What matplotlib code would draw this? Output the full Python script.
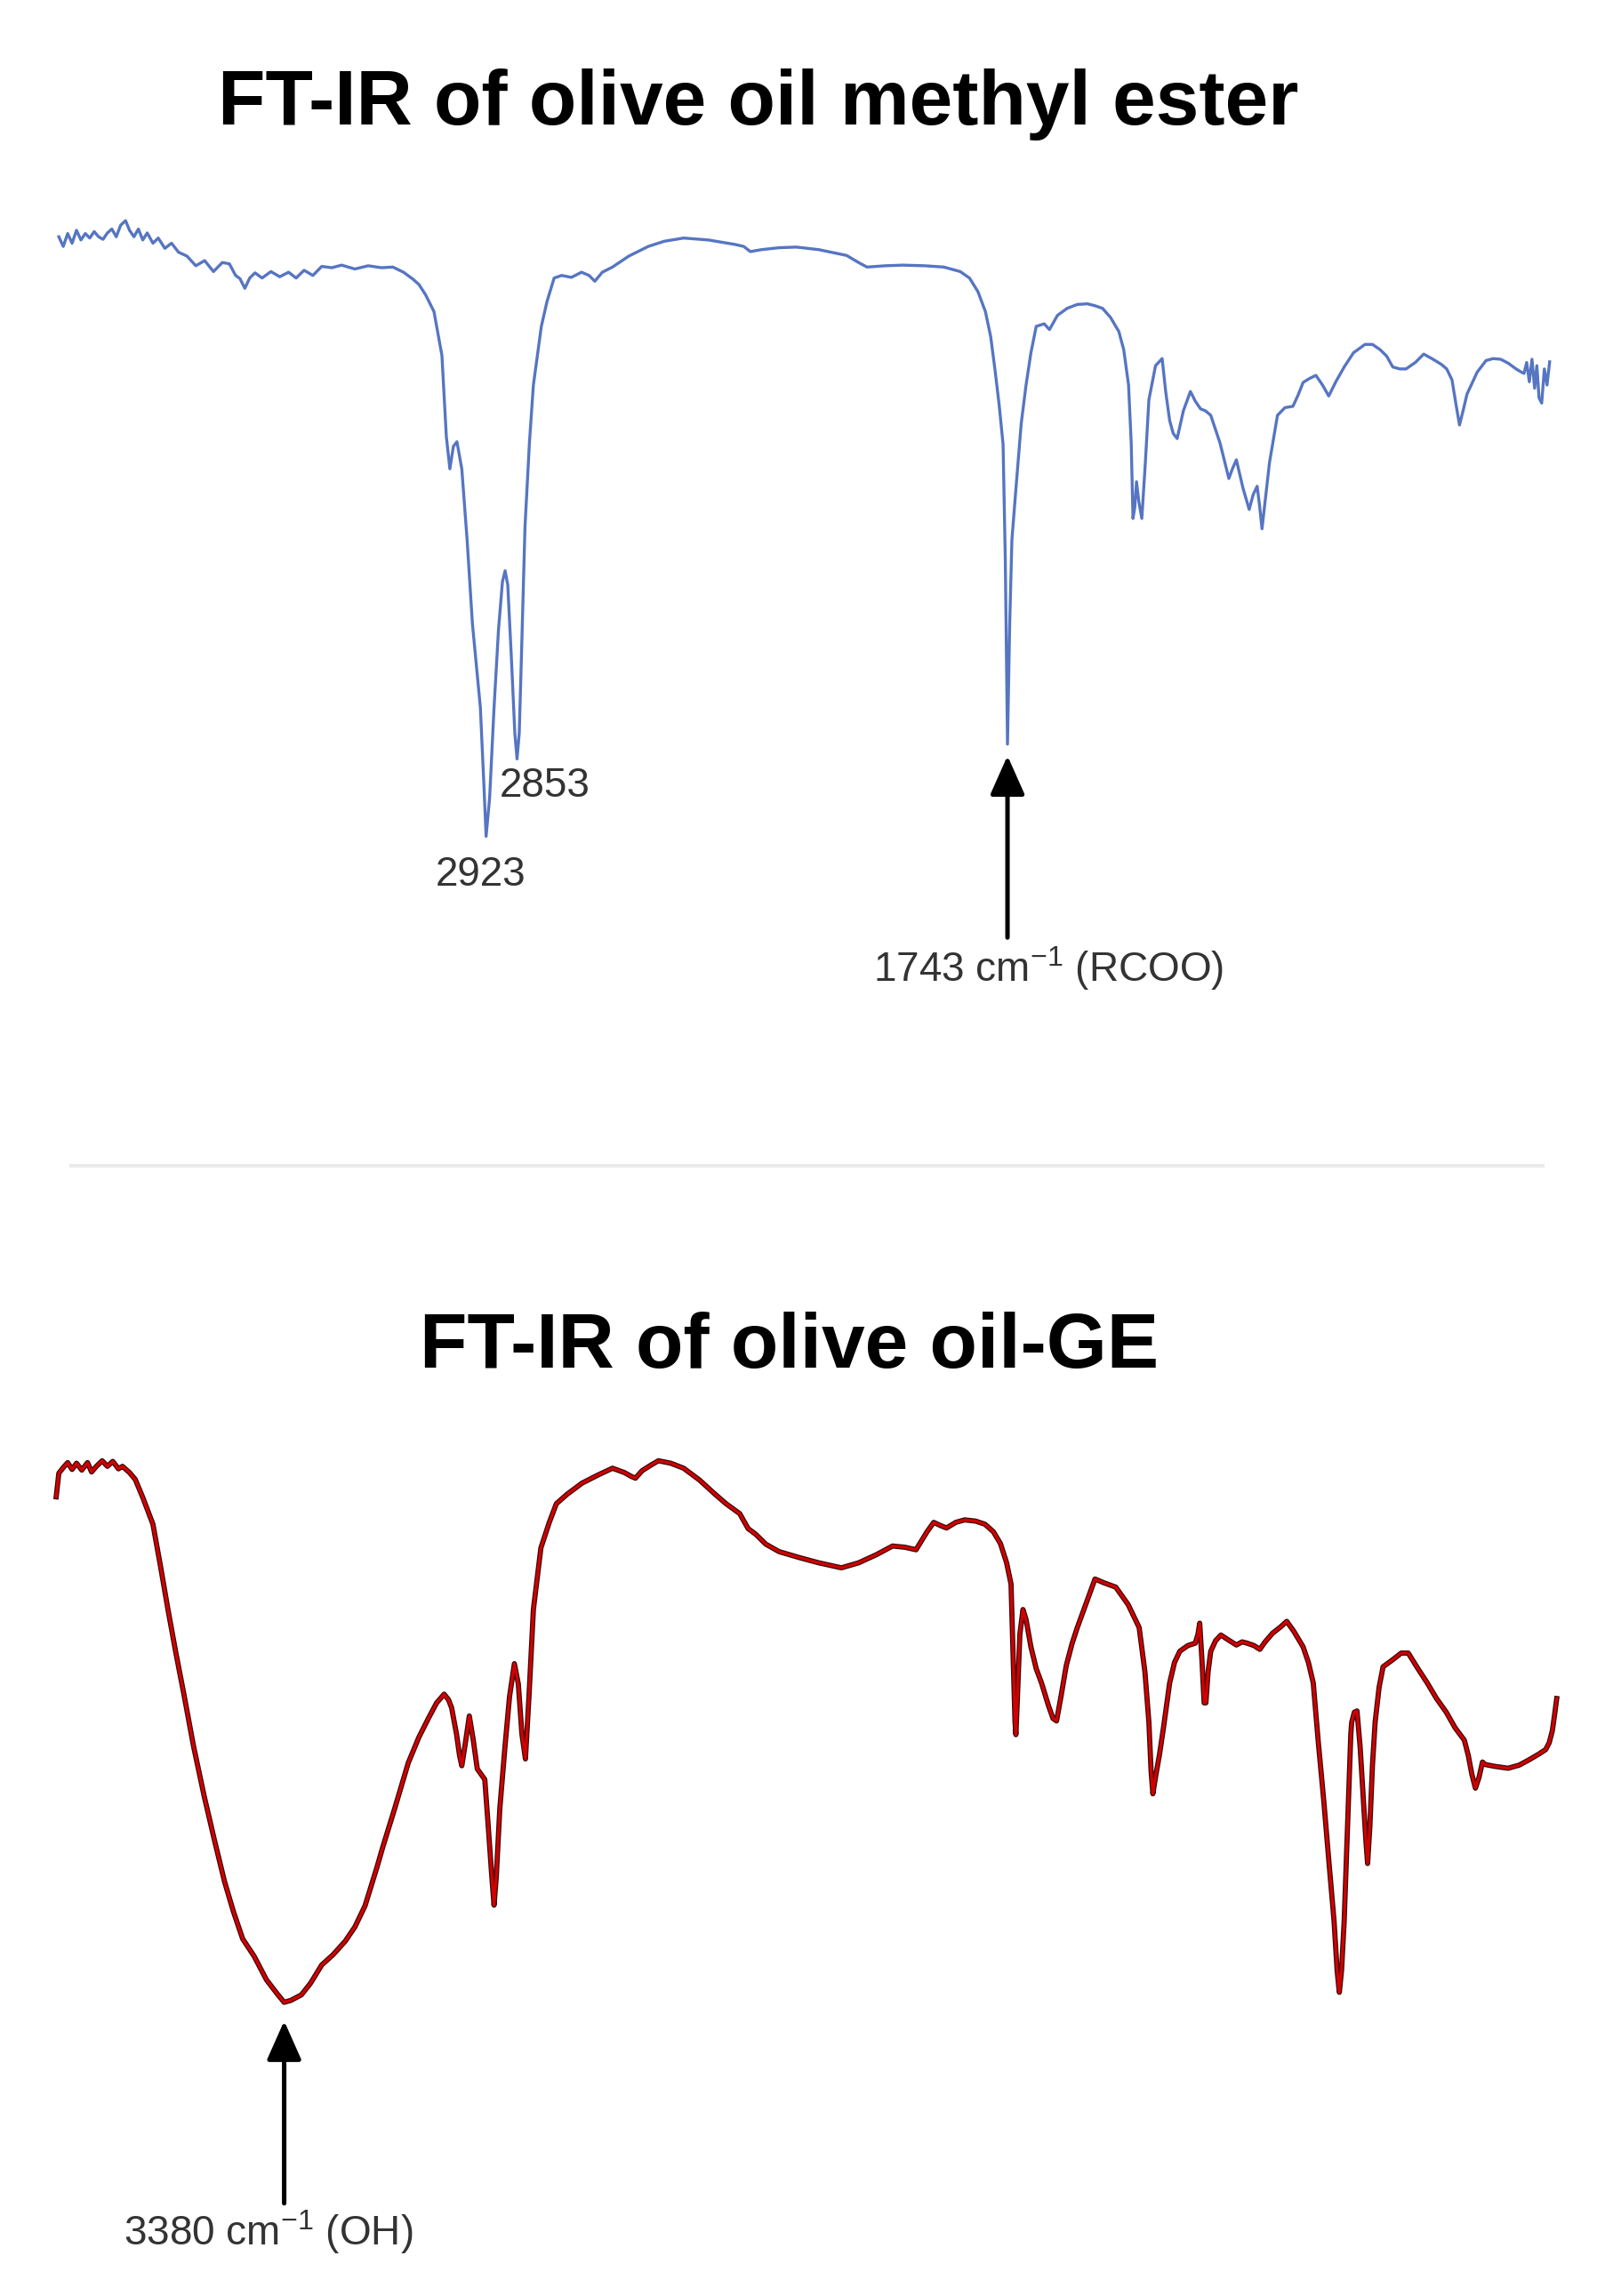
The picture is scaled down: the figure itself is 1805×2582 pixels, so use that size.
import matplotlib
matplotlib.use("Agg")
import matplotlib.pyplot as plt
from matplotlib.lines import Line2D
import numpy as np

plt.rcParams['font.family'] = ['Liberation Sans', 'DejaVu Sans']
plt.rcParams['mathtext.fontset'] = 'custom'
plt.rcParams['mathtext.rm'] = 'Liberation Sans'
plt.rcParams['mathtext.it'] = 'Liberation Sans:italic'
plt.rcParams['mathtext.bf'] = 'Liberation Sans:bold'

# ---------------- data ----------------
title_top = "FT-IR of olive oil methyl ester"
title_bottom = "FT-IR of olive oil-GE"

# olive oil methyl ester spectrum (wavenumber cm-1, %T)
top_wavenumber = [
    3890, 3880, 3870, 3860, 3850, 3840, 3830, 3820, 3810, 3800,
    3790, 3780, 3770, 3760, 3750, 3739, 3730, 3720, 3710, 3700,
    3690, 3677, 3665, 3650, 3635, 3619, 3600, 3580, 3560, 3540,
    3520, 3504, 3490, 3480, 3469, 3458, 3446, 3430, 3410, 3390,
    3370, 3353, 3335, 3315, 3295, 3272, 3250, 3220, 3190, 3160,
    3134, 3110, 3090, 3075, 3060, 3041, 3023, 3013, 3005, 2997,
    2989, 2978, 2966, 2954, 2936, 2928, 2923, 2915, 2905, 2895,
    2886, 2880, 2874, 2866, 2858, 2853, 2848, 2843, 2835, 2825,
    2816, 2798, 2785, 2769, 2752, 2730, 2707, 2690, 2677, 2660,
    2637, 2600, 2556, 2520, 2476, 2420, 2359, 2340, 2325, 2300,
    2260, 2221, 2170, 2107, 2080, 2061, 2020, 1980, 1930, 1887,
    1850, 1829, 1810, 1793, 1781, 1771, 1762, 1753, 1748, 1743,
    1738, 1733, 1725, 1712, 1701, 1690, 1678, 1660, 1648, 1630,
    1608, 1585, 1562, 1545, 1528, 1510, 1491, 1480, 1469, 1463,
    1459, 1455, 1451, 1446, 1439, 1431, 1423, 1408, 1393, 1385,
    1376, 1368, 1359, 1345, 1329, 1318, 1306, 1295, 1283, 1262,
    1242, 1234, 1225, 1210, 1196, 1187, 1178, 1172, 1167, 1150,
    1132, 1115, 1097, 1085, 1074, 1060, 1045, 1030, 1016, 1000,
    981, 960, 934, 917, 900, 885, 871, 855, 841, 820,
    801, 780, 761, 749, 737, 728, 720, 712, 703, 680,
    660, 644, 627, 610, 592, 580, 574, 568, 562, 556,
    550, 545, 540, 534, 528, 522, 516,
]
top_transmittance = [
    95.0, 93.5, 95.5, 94.0, 96.0, 94.5, 95.5, 94.8, 95.8, 95.0,
    94.6, 95.6, 96.2, 95.0, 96.8, 97.5, 96.0, 95.0, 96.2, 94.5,
    95.6, 94.0, 94.8, 93.2, 94.0, 92.6, 92.0, 90.5, 91.3, 89.6,
    91.0, 90.8, 89.0, 88.5, 87.0, 88.6, 89.4, 88.6, 89.6, 88.8,
    89.5, 88.6, 89.8, 89.0, 90.4, 90.2, 90.6, 90.0, 90.5, 90.2,
    90.3, 89.5, 88.5, 87.6, 86.0, 83.4, 76.6, 64.0, 59.0, 62.5,
    63.2, 59.0, 48.0, 35.0, 22.0, 10.0, 2.0, 8.0, 22.0, 34.0,
    41.5, 43.2, 41.0, 30.0, 18.0, 14.0, 18.0, 30.0, 50.0, 63.0,
    72.0, 81.1, 85.0, 88.6, 89.0, 88.7, 89.5, 89.0, 88.1, 89.5,
    90.3, 92.0, 93.5, 94.3, 94.8, 94.5, 93.8, 93.5, 92.7, 93.0,
    93.3, 93.4, 93.0, 92.1, 91.0, 90.3, 90.5, 90.6, 90.5, 90.3,
    89.6, 88.6, 86.5, 83.4, 79.5, 74.2, 69.0, 62.8, 45.0, 16.3,
    35.0, 48.0, 55.0, 66.0, 72.0, 77.0, 81.1, 81.5, 80.6, 82.8,
    83.9, 84.5, 84.6, 84.3, 83.9, 82.5, 80.3, 77.5, 72.0, 63.0,
    51.3, 53.0, 57.0, 54.0, 51.3, 60.0, 69.7, 75.0, 76.1, 71.0,
    66.5, 64.5, 63.7, 68.0, 71.0, 69.5, 68.3, 68.0, 67.3, 63.0,
    57.5, 59.0, 60.4, 56.0, 52.7, 55.0, 56.3, 53.0, 49.7, 60.0,
    67.3, 68.5, 68.7, 70.5, 72.4, 73.0, 73.5, 72.0, 70.3, 72.5,
    74.8, 77.0, 78.3, 78.3, 77.5, 76.5, 74.8, 74.5, 74.5, 75.5,
    76.8, 76.0, 75.2, 74.5, 72.8, 69.0, 65.8, 68.0, 70.6, 74.0,
    75.8, 76.1, 76.0, 75.4, 74.5, 74.0, 73.8, 75.5, 72.5, 76.0,
    71.5, 75.0, 70.0, 69.2, 74.5, 72.0, 75.6,
]

# olive oil-GE spectrum (wavenumber cm-1, %T)
bottom_wavenumber = [
    3896, 3890, 3880, 3870, 3860, 3850, 3838, 3825, 3816, 3805,
    3792, 3780, 3768, 3755, 3746, 3730, 3717, 3700, 3677, 3660,
    3643, 3625, 3607, 3585, 3561, 3538, 3515, 3495, 3474, 3448,
    3420, 3394, 3380, 3365, 3341, 3320, 3295, 3270, 3242, 3220,
    3197, 3170, 3157, 3130, 3099, 3075, 3053, 3035, 3018, 3008,
    3001, 2990, 2983, 2978, 2970, 2961, 2952, 2943, 2926, 2918,
    2910, 2905, 2900, 2892, 2880, 2870, 2859, 2850, 2842, 2834,
    2826, 2816, 2799, 2780, 2764, 2740, 2706, 2670, 2637, 2610,
    2595, 2585, 2570, 2550, 2533, 2505, 2476, 2440, 2406, 2380,
    2349, 2330, 2313, 2290, 2260, 2212, 2170, 2119, 2080, 2040,
    2003, 1975, 1950, 1925, 1910, 1895, 1881, 1860, 1840, 1815,
    1794, 1775, 1759, 1745, 1735, 1730, 1726, 1724, 1721, 1715,
    1708, 1701, 1690, 1678, 1666, 1650, 1640, 1632, 1622, 1610,
    1597, 1585, 1565, 1545, 1525, 1498, 1470, 1445, 1432, 1423,
    1418, 1414, 1407, 1399, 1390, 1376, 1365, 1353, 1335, 1318,
    1312, 1308, 1303, 1298, 1294, 1289, 1283, 1272, 1260, 1245,
    1225, 1212, 1201, 1185, 1172, 1160, 1143, 1125, 1111, 1095,
    1074, 1062, 1051, 1040, 1027, 1015, 1004, 997, 992, 987,
    981, 972, 966, 964, 958, 952, 945, 938, 932, 928,
    923, 917, 911, 902, 893, 870, 852, 836, 815, 793,
    772, 750, 730, 709, 700, 692, 684, 676, 668, 662,
    640, 610, 585, 564, 540, 525, 517, 510, 505, 500,
]
bottom_transmittance = [
    88.1, 91.9, 92.8, 93.6, 92.5, 93.5, 92.4, 93.6, 92.1, 93.0,
    93.9, 93.0, 93.8, 92.6, 93.0, 92.0, 90.9, 88.0, 83.7, 77.0,
    70.0, 63.0, 56.4, 48.0, 40.0, 33.0, 26.3, 21.5, 17.1, 14.3,
    10.5, 8.1, 6.9, 7.2, 8.1, 10.0, 12.9, 14.5, 16.7, 19.0,
    22.4, 28.6, 31.8, 38.0, 45.4, 49.5, 52.6, 55.0, 56.4, 55.5,
    54.2, 50.0, 46.5, 44.9, 48.5, 52.9, 49.0, 44.4, 42.7, 35.0,
    27.0, 22.5, 27.0, 38.0, 48.2, 56.0, 61.3, 58.0, 50.0, 46.0,
    56.0, 70.0, 79.9, 84.0, 87.0, 88.5, 90.3, 91.6, 92.7, 92.0,
    91.4, 91.1, 92.3, 93.2, 93.9, 93.5, 92.7, 90.8, 88.6, 87.0,
    85.4, 83.0, 82.1, 80.5, 79.3, 78.3, 77.5, 76.7, 77.5, 78.8,
    80.2, 80.0, 79.6, 82.5, 84.0, 83.5, 83.1, 84.0, 84.4, 84.2,
    83.7, 82.5, 80.6, 77.5, 74.1, 62.0, 52.0, 49.9, 55.0, 66.0,
    70.0, 68.4, 64.0, 60.5, 58.2, 54.5, 52.5, 52.1, 56.0, 61.0,
    64.5, 67.1, 71.0, 74.9, 74.3, 73.6, 70.8, 67.1, 60.0, 51.9,
    44.0, 40.4, 43.5, 46.7, 51.0, 58.2, 61.5, 63.3, 64.2, 64.6,
    66.0, 67.8, 62.0, 55.0, 55.0, 60.0, 63.3, 65.0, 65.9, 65.2,
    64.3, 64.8, 64.6, 64.2, 63.6, 64.8, 66.2, 67.2, 68.1, 66.5,
    64.0, 61.5, 58.2, 49.0, 39.1, 29.0, 20.0, 12.0, 8.5, 12.0,
    20.0, 38.0, 50.0, 51.9, 53.5, 53.7, 48.0, 40.0, 33.0, 29.2,
    35.0, 45.0, 51.9, 57.5, 60.8, 62.0, 63.0, 63.0, 60.6, 58.2,
    55.7, 53.5, 51.0, 49.0, 46.5, 43.5, 41.3, 43.0, 45.5, 45.1,
    44.8, 44.5, 45.0, 45.8, 46.8, 47.5, 48.6, 50.5, 53.0, 55.7,
]

peak_labels_top = ["2923", "2853"]
peak_label_pos_top = [(2936, -4.0), (2791, 9.8)]
arrow_top_wavenumber = 1743
arrow_top_label = "1743 cm$^{-1}$ (RCOO)"
arrow_bottom_wavenumber = 3380
arrow_bottom_label = "3380 cm$^{-1}$ (OH)"

# ---------------- figure ----------------
W, H = 1805, 2582
fig = plt.figure(figsize=(W / 100, H / 100), dpi=100)
fig.patch.set_facecolor("white")

x_left = 11.5 / W
x_width = (1800.4 - 11.5) / W

ax1 = fig.add_axes([x_left, 1 - 955 / H, x_width, 725 / H])
ax2 = fig.add_axes([x_left, 1 - 2300 / H, x_width, 700 / H])
for ax in (ax1, ax2):
    ax.set_xlim(4000, 400)
    ax.set_ylim(0, 100)
    ax.axis("off")

ax1.plot(top_wavenumber, top_transmittance, color="#5675c2", lw=2.4,
         solid_joinstyle="round")

ax2.plot(bottom_wavenumber, bottom_transmittance, color="#3a0a0a", lw=4.2,
         solid_joinstyle="round")
ax2.plot(bottom_wavenumber, bottom_transmittance, color="#d00000", lw=2.4,
         solid_joinstyle="round")

# titles
fig.text(853 / W, 1 - 140 / H, title_top, ha="center", va="baseline",
         fontsize=63, fontweight="bold", color="black")
fig.text(888 / W, 1 - 1538 / H, title_bottom, ha="center", va="baseline",
         fontsize=63, fontweight="bold", color="black")

# separator
fig.add_artist(Line2D([80 / W, 1735 / W], [1 - 1311 / H, 1 - 1311 / H],
                      transform=fig.transFigure, color="#ebebeb", lw=3))

label_color = "#333333"
for lab, (xw, yt) in zip(peak_labels_top, peak_label_pos_top):
    ax1.text(xw, yt, lab, ha="center", va="center", fontsize=33,
             color=label_color, clip_on=False)

arrow_style = dict(arrowstyle="-|>,head_length=0.45,head_width=0.2",
                   mutation_scale=60, lw=3.6, color="black",
                   shrinkA=0, shrinkB=0)

ax1.annotate("", xy=(arrow_top_wavenumber, 14.5),
             xytext=(arrow_top_wavenumber, -13.7),
             arrowprops=arrow_style, annotation_clip=False)
ax1.text(1650, -18.5, arrow_top_label, ha="center", va="center",
         fontsize=33, color=label_color, clip_on=False)

ax2.annotate("", xy=(arrow_bottom_wavenumber, 3.9),
             xytext=(arrow_bottom_wavenumber, -25.4),
             arrowprops=arrow_style, annotation_clip=False)
ax2.text(3415, -30.0, arrow_bottom_label, ha="center", va="center",
         fontsize=33, color=label_color, clip_on=False)

fig.savefig("out.png", dpi=100, facecolor="white")
